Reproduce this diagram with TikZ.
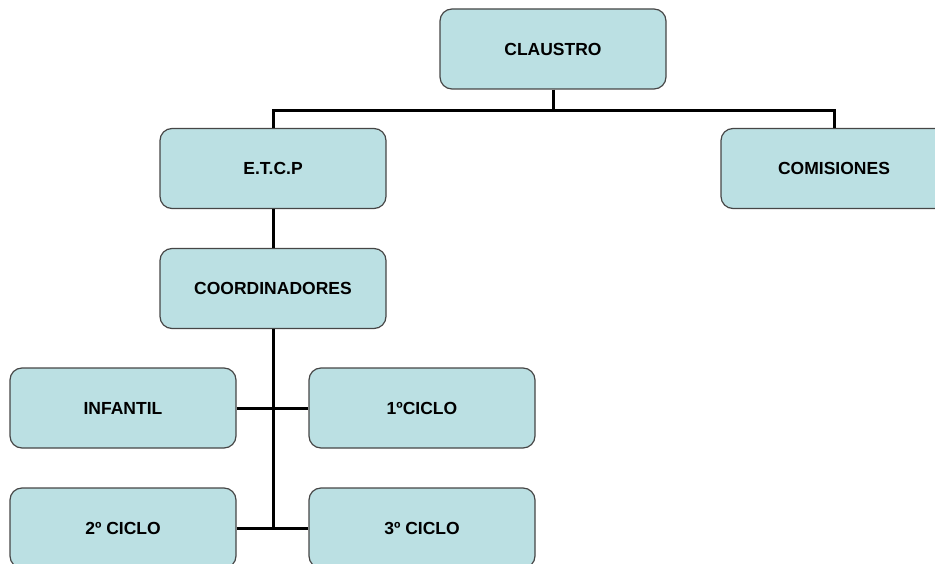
\documentclass[tikz,border=0pt]{standalone}
\usepackage{fontspec}
\setmainfont{Liberation Sans}
\definecolor{boxfill}{RGB}{187,224,227}
\definecolor{boxline}{RGB}{70,70,70}
\begin{document}
\begin{tikzpicture}[x=1pt,y=-1pt,
  orgbox/.style={draw=boxline, line width=1.2pt, fill=boxfill, rounded corners=12pt,
    minimum width=226pt, minimum height=80pt, inner sep=0pt,
    font=\fontsize{17.5}{20}\selectfont\bfseries},
  link/.style={line width=3pt, black}]
\useasboundingbox (0,0) rectangle (935,564);
\clip (0,0) rectangle (935,564);
\node[orgbox] (claustro) at (553,49) {CLAUSTRO};
\node[orgbox] (etcp) at (273,168.5) {E.T.C.P};
\node[orgbox] (comis) at (834,168.5) {COMISIONES};
\node[orgbox] (coord) at (273,288.5) {COORDINADORES};
\node[orgbox] (inf) at (123,408) {INFANTIL};
\node[orgbox] (c1) at (422,408) {1ºCICLO};
\node[orgbox] (c2) at (123,528) {2º CICLO};
\node[orgbox] (c3) at (422,528) {3º CICLO};
\coordinate (jt) at (553,111);
\coordinate (jb) at (273,528);
\draw[link] (claustro.south) -- (jt);
\draw[link] (etcp.north) -- (etcp.north |- jt) -- (comis.north |- jt) -- (comis.north);
\draw[link] (etcp.south) -- (coord.north);
\draw[link] (coord.south) -- (jb);
\draw[link] (inf.east) -- (c1.west);
\draw[link] (c2.east) -- (c3.west);
\end{tikzpicture}
\end{document}
